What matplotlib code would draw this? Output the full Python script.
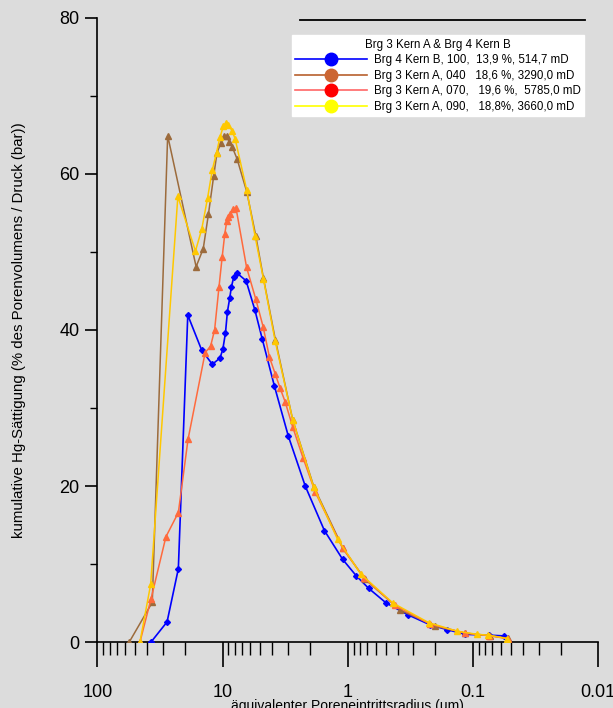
import matplotlib
matplotlib.use("Agg")
import matplotlib.pyplot as plt
from matplotlib.lines import Line2D

# radius (um) / cumulative Hg saturation (%)
r_b4_100 = [37.4, 27.8, 22.6, 19.0, 14.7, 12.1, 10.5, 9.98, 9.5, 9.17, 8.78, 8.52, 8.15, 7.71,
            6.50, 5.54, 4.84, 3.86, 2.99, 2.19, 1.54, 1.10, 0.857, 0.683, 0.493, 0.331, 0.219,
            0.161, 0.115, 0.0753, 0.0568]
s_b4_100 = [0.0, 2.6, 9.4, 41.9, 37.4, 35.6, 36.4, 37.5, 39.6, 42.3, 44.1, 45.5, 46.8, 47.3,
            46.3, 42.6, 38.9, 32.8, 26.4, 20.0, 14.3, 10.6, 8.5, 6.9, 5.0, 3.5, 2.2,
            1.6, 1.0, 0.9, 0.8]

r_b3_040 = [55.8, 36.5, 27.5, 16.3, 14.3, 13.0, 11.8, 11.1, 10.3, 9.75, 9.28, 8.89, 8.37, 7.67,
            6.42, 5.43, 4.72, 3.79, 2.76, 1.87, 1.10, 0.735, 0.381, 0.20, 0.115, 0.0726, 0.053]
s_b3_040 = [0.0, 5.1, 64.9, 48.1, 50.4, 54.8, 59.7, 62.7, 64.0, 64.9, 64.9, 64.1, 63.4, 61.9,
            57.7, 52.0, 46.6, 38.7, 28.5, 19.9, 12.1, 8.1, 4.1, 2.05, 1.15, 0.83, 0.5]

r_b3_070 = [45.8, 37.4, 28.4, 22.6, 18.9, 13.8, 12.5, 11.6, 10.7, 10.1, 9.62, 9.26, 9.0, 8.68,
            8.21, 7.82, 6.44, 5.43, 4.75, 4.23, 3.81, 3.47, 3.17, 2.75, 2.28, 1.82, 1.10, 0.74,
            0.42, 0.22, 0.115, 0.075, 0.053]
s_b3_070 = [0.0, 5.5, 13.5, 16.6, 26.0, 37.1, 37.9, 40.0, 45.5, 49.3, 52.3, 54.0, 54.5, 54.9,
            55.5, 55.6, 48.0, 43.9, 40.4, 36.5, 34.4, 32.5, 30.8, 27.5, 23.6, 19.2, 12.0, 8.2,
            4.7, 2.3, 1.15, 0.83, 0.45]

r_b3_090 = [45.8, 37.6, 22.8, 16.5, 14.7, 13.2, 12.1, 11.2, 10.5, 9.87, 9.39, 9.0, 8.41, 7.96,
            6.42, 5.51, 4.72, 3.81, 2.76, 1.88, 1.21, 0.786, 0.436, 0.226, 0.134, 0.0927,
            0.0755, 0.0533]
s_b3_090 = [0.0, 7.4, 57.1, 50.1, 52.9, 56.9, 60.5, 62.7, 64.7, 66.1, 66.5, 66.3, 65.5, 64.5,
            57.9, 52.0, 46.5, 38.6, 28.5, 19.9, 13.2, 8.7, 5.0, 2.5, 1.4, 1.0, 0.9, 0.45]

labels = ["Brg 4 Kern B, 100,  13,9 %, 514,7 mD",
          "Brg 3 Kern A, 040   18,6 %, 3290,0 mD",
          "Brg 3 Kern A, 070,   19,6 %,  5785,0 mD",
          "Brg 3 Kern A, 090,   18,8%, 3660,0 mD"]
legend_title = "Brg 3 Kern A & Brg 4 Kern B"

plt.rcParams['font.family'] = ['Liberation Sans', 'DejaVu Sans']
BG = '#DCDCDC'

fig = plt.figure(figsize=(6.13, 7.08), dpi=100, facecolor=BG)
ax = fig.add_axes([0.159, 0.093, 0.817, 0.882], facecolor=BG)

ax.plot(r_b4_100, s_b4_100, color='#0000FF', lw=1.2, marker='D', ms=3, zorder=3)
ax.plot(r_b3_040, s_b3_040, color='#9C6B3C', lw=1.1, marker='^', ms=4, zorder=4)
ax.plot(r_b3_070, s_b3_070, color='#FF6A3D', lw=1.1, marker='^', ms=4, zorder=5)
ax.plot(r_b3_090, s_b3_090, color='#FFC800', lw=1.1, marker='^', ms=4, zorder=6)

ax.set_xscale('log')
ax.set_xlim(100, 0.01)
ax.set_ylim(0, 80)
ax.set_xticks([100, 10, 1, 0.1, 0.01])
ax.set_xticklabels(["100", "10", "1", "0.1", "0.01"])
ax.set_yticks([0, 20, 40, 60, 80])
ax.set_yticks([10, 30, 50, 70], minor=True)

for s in ['top', 'right']:
    ax.spines[s].set_visible(False)
for s in ['left', 'bottom']:
    ax.spines[s].set_linewidth(1.2)

ax.tick_params(axis='x', which='major', length=18, width=1.2, pad=12, labelsize=13)
ax.tick_params(axis='x', which='minor', length=9, width=1.0)
ax.tick_params(axis='y', which='major', length=9, width=1.2, pad=4, labelsize=13)
ax.tick_params(axis='y', which='minor', length=5, width=1.0)

ax.set_xlabel("äquivalenter Poreneintrittsradius (um)", fontsize=10, labelpad=-1)
ax.set_ylabel("kumulative Hg-Sättigung (% des Porenvolumens / Druck (bar))", fontsize=10.8, labelpad=24)

fig.add_artist(Line2D([0.489, 0.954], [0.972, 0.972], color='black', lw=1.3))

handles = [
    Line2D([], [], color='#0000FF', lw=1.2, marker='o', ms=9, mfc='#0000FF', mec='#0000FF'),
    Line2D([], [], color='#B8602E', lw=1.2, marker='o', ms=9, mfc='#CC6633', mec='#CC6633'),
    Line2D([], [], color='#FF6666', lw=1.2, marker='o', ms=9, mfc='#FF0000', mec='#FF0000'),
    Line2D([], [], color='#FFFF00', lw=1.2, marker='o', ms=9, mfc='#FFFF00', mec='#FFFF00'),
]
leg = ax.legend(handles, labels, title=legend_title, fontsize=8.3, title_fontsize=8.3,
                loc='upper right', bbox_to_anchor=(0.962, 0.958), bbox_transform=fig.transFigure,
                frameon=True, fancybox=False, framealpha=1, edgecolor='white',
                handlelength=6.2, handletextpad=0.6, labelspacing=0.3, borderpad=0.3)
leg.get_frame().set_facecolor('white')

fig.savefig("out.png", dpi=100, facecolor=BG)
